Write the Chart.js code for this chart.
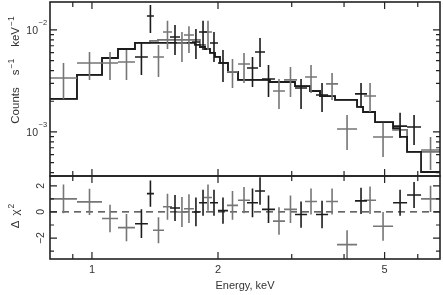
<!DOCTYPE html>
<html>
<head>
<meta charset="utf-8">
<script src="https://cdn.jsdelivr.net/npm/chart.js@4.4.1/dist/chart.umd.min.js"></script>
<style>
  html, body { margin: 0; padding: 0; background: #fff; }
  #wrap { position: relative; width: 443px; height: 295px; }
  #spec { position: absolute; left: 0; top: 0; }
  #resid { position: absolute; left: 0; top: 174px; }
</style>
</head>
<body>
<div id="wrap">
  <canvas id="spec" width="443" height="178"></canvas>
  <canvas id="resid" width="443" height="121"></canvas>
</div>
<script>
// plotted energy range, keV
var eMin = 0.794, eMax = 6.78;

// black instrument: bin edges (keV), count rate and its error limits, residuals
var blkLo = [1.267, 1.353, 1.536, 1.733, 1.802, 1.914, 2.000, 2.346, 2.452, 2.548, 3.055, 3.428, 4.249, 5.238, 5.657];
var blkHi = [1.360, 1.406, 1.623, 1.811, 1.883, 2.000, 2.113, 2.492, 2.590, 2.736, 3.264, 3.664, 4.539, 5.657, 6.109];
var blkRate = [0.00544, 0.0137, 0.00854, 0.00763, 0.00956, 0.00746, 0.00475, 0.00424, 0.00609, 0.00331, 0.00270, 0.00230, 0.00236, 0.00114, 0.00112];
var blkRateLo = [0.00362, 0.00935, 0.00569, 0.00519, 0.00637, 0.00485, 0.00309, 0.00276, 0.00434, 0.00220, 0.00168, 0.00157, 0.00172, 0.000873, 0.000746];
var blkRateHi = [0.00746, 0.0176, 0.0112, 0.0102, 0.0123, 0.00956, 0.00637, 0.00544, 0.00835, 0.00454, 0.00331, 0.00302, 0.00302, 0.00154, 0.00147];
var blkRes = [-0.9, 1.4, 0.3, 0.0, 0.7, 0.7, 0.1, 0.7, 1.6, 0.2, -0.2, -0.2, 0.85, 0.7, 1.3];
var blkResErr = [1.1, 1.0, 1.0, 1.1, 1.0, 1.0, 1.0, 1.1, 1.05, 1.05, 1.0, 1.05, 1.0, 1.0, 1.0];

// grey instrument
var gryLo = [0.794, 0.921, 1.057, 1.154, 1.399, 1.478, 1.596, 1.659, 1.852, 2.101, 2.233, 2.706, 2.875, 3.228, 3.624, 3.849, 4.465, 4.691, 6.109];
var gryHi = [0.921, 1.057, 1.154, 1.267, 1.486, 1.553, 1.686, 1.752, 1.935, 2.233, 2.385, 2.891, 3.088, 3.447, 3.870, 4.297, 4.770, 5.238, 6.782];
var gryRate = [0.00338, 0.00475, 0.00475, 0.00485, 0.00544, 0.00956, 0.00746, 0.00893, 0.00956, 0.00388, 0.00464, 0.00252, 0.00324, 0.00346, 0.00296, 0.00107, 0.00225, 0.000893, 0.000666];
var gryRateLo = [0.00211, 0.00324, 0.00324, 0.00324, 0.00346, 0.00651, 0.00485, 0.00595, 0.00637, 0.00270, 0.00302, 0.00168, 0.00220, 0.00241, 0.00206, 0.000666, 0.00157, 0.000569, 0.000424];
var gryRateHi = [0.00475, 0.00609, 0.00609, 0.00637, 0.00713, 0.0123, 0.00956, 0.0109, 0.0123, 0.00519, 0.00595, 0.00331, 0.00434, 0.00454, 0.00379, 0.00147, 0.00302, 0.00123, 0.000893];
var gryRes = [1.0, 0.77, -0.5, -1.2, -1.4, 0.4, 0.0, 0.25, 1.1, 0.5, 0.9, -0.7, 0.2, 0.8, 0.8, -2.5, 0.9, -1.1, 1.0];
var gryResErr = [1.1, 1.0, 1.05, 1.05, 1.0, 1.0, 1.15, 1.1, 1.0, 1.1, 1.0, 1.05, 1.05, 1.0, 1.0, 1.1, 1.05, 1.1, 1.0];

// folded models (step histograms)
var blkModelEdges = [0.794, 0.921, 1.057, 1.154, 1.267, 1.376, 1.762, 1.811, 1.862, 1.914, 1.967, 2.022, 2.113, 2.233, 2.661, 3.055, 3.318, 3.505, 3.807, 4.297, 4.441, 4.744, 5.238, 5.443, 5.657, 6.109, 6.782];
var blkModel = [0.00211, 0.00362, 0.00531, 0.00651, 0.00746, 0.00746, 0.00713, 0.00681, 0.00651, 0.00595, 0.00544, 0.00475, 0.00388, 0.00324, 0.00309, 0.00282, 0.00252, 0.00225, 0.00206, 0.00176, 0.00157, 0.00125, 0.00109, 0.000893, 0.000637, 0.000405];
var gryModelEdges = [0.794, 0.921, 1.057, 1.154, 1.267, 1.376, 1.438, 1.811, 1.862, 1.914, 1.967, 2.022, 2.113, 2.233, 2.661, 3.055, 3.318, 3.505, 3.807, 4.297, 4.441, 4.744, 5.238, 5.657, 6.782];
var gryModel = [0.00211, 0.00362, 0.00531, 0.00651, 0.00746, 0.0078, 0.00798, 0.00713, 0.00651, 0.00595, 0.00544, 0.00475, 0.00388, 0.00324, 0.00309, 0.00282, 0.00252, 0.00225, 0.00206, 0.00176, 0.00157, 0.00125, 0.00105, 0.000637];

// axes
var rateMin = 3.7e-4, rateMax = 0.0188;
var resMin = -3.6, resMax = 2.75;
var energyTicks = [0.9, 1, 2, 3, 4, 5, 6];
var energyLabels = [1, 2, 5];
var rateLabels = [0.01, 0.001];
var rateExp = ['\u22122', '\u22123'];
var resTicks = [-3, -2, -1, 0, 1, 2];
var resLabels = [-2, 0, 2];

var FONT = '"Liberation Sans", Arial, sans-serif';
var BLACK = '#1c1c1c', GREY = '#767676';

function crosses(lo, hi, v, vlo, vhi) {
    var pts = [];
    for (var i = 0; i < lo.length; i++) {
        var c = Math.sqrt(lo[i] * hi[i]);
        pts.push({x: lo[i], y: v[i]}, {x: hi[i], y: v[i]}, {x: c, y: null},
                 {x: c, y: vlo[i]}, {x: c, y: vhi[i]}, {x: c, y: null});
    }
    return pts;
}

function steps(edges, vals) {
    var pts = [];
    for (var i = 0; i < vals.length; i++) {
        pts.push({x: edges[i], y: vals[i]}, {x: edges[i + 1], y: vals[i]});
    }
    return pts;
}

function drawRich(ctx, parts, cx, cy, rot) {
    ctx.save();
    ctx.translate(cx, cy);
    if (rot) ctx.rotate(-Math.PI / 2);
    var total = 0;
    parts.forEach(function(p) {
        ctx.font = p.size + 'px ' + FONT;
        p.w = ctx.measureText(p.t).width;
        total += p.w + (p.gap || 0);
    });
    var x = -total / 2;
    ctx.textAlign = 'left';
    ctx.textBaseline = 'alphabetic';
    parts.forEach(function(p) {
        x += p.gap || 0;
        ctx.font = p.size + 'px ' + FONT;
        ctx.fillText(p.t, x, 4 + (p.dy || 0));
        x += p.w;
    });
    ctx.restore();
}

// frame, inward ticks and all labels
var frame = {
    id: 'frame',
    afterDatasetsDraw: function(chart, args, o) {
        var ctx = chart.ctx, a = chart.chartArea, xs = chart.scales.x, ys = chart.scales.y;
        ctx.save();
        ctx.strokeStyle = '#222';
        ctx.lineWidth = 1.2;
        ctx.beginPath();
        energyTicks.forEach(function(v) {
            var p = xs.getPixelForValue(v);
            var len = energyLabels.indexOf(v) >= 0 ? 7 : 5;
            ctx.moveTo(p, a.bottom); ctx.lineTo(p, a.bottom - len);
            ctx.moveTo(p, a.top); ctx.lineTo(p, a.top + len);
        });
        o.yTicks.forEach(function(v) {
            var p = ys.getPixelForValue(v);
            if (p < a.top || p > a.bottom) return;
            var len = o.yMajor.indexOf(v) >= 0 ? 7 : 4;
            ctx.moveTo(a.left, p); ctx.lineTo(a.left + len, p);
            ctx.moveTo(a.right, p); ctx.lineTo(a.right - len, p);
        });
        ctx.stroke();
        ctx.lineWidth = 1.6;
        ctx.strokeRect(a.left, a.top, a.right - a.left, a.bottom - a.top);

        ctx.fillStyle = '#333';
        if (o.log) {
            o.yMajor.forEach(function(v, i) {
                var p = ys.getPixelForValue(v);
                ctx.font = '10.5px ' + FONT;
                ctx.textAlign = 'right';
                ctx.textBaseline = 'middle';
                ctx.fillText('10', 38, p + 1);
                ctx.font = '7.5px ' + FONT;
                ctx.textAlign = 'left';
                ctx.fillText(rateExp[i], 38.5, p - 7);
            });
            drawRich(ctx, [
                {t: 'Counts', size: 11.5},
                {t: 's', size: 11.5, gap: 12},
                {t: '\u22121', size: 8.5, dy: -5, gap: 1},
                {t: 'keV', size: 11.5, gap: 12},
                {t: '\u22121', size: 8.5, dy: -5, gap: 1}
            ], 15, 70, true);
        } else {
            o.yMajor.forEach(function(v) {
                var p = ys.getPixelForValue(v);
                ctx.save();
                ctx.translate(41, p);
                ctx.rotate(-Math.PI / 2);
                ctx.font = '10.5px ' + FONT;
                ctx.textAlign = 'center';
                ctx.textBaseline = 'middle';
                ctx.fillText(v < 0 ? '\u2212' + (-v) : String(v), 0, 0);
                ctx.restore();
            });
            drawRich(ctx, [
                {t: '\u0394', size: 11.5},
                {t: '\u03c7', size: 11.5, gap: 5},
                {t: '2', size: 8.5, dy: -5, gap: 1}
            ], 15, 42, true);
            ctx.font = '11px ' + FONT;
            ctx.textAlign = 'center';
            ctx.textBaseline = 'middle';
            energyLabels.forEach(function(v) {
                ctx.fillText(String(v), xs.getPixelForValue(v), a.bottom + 11);
            });
            ctx.fillText('Energy, keV', (a.left + a.right) / 2, a.bottom + 27);
        }
        ctx.restore();
    }
};

function lineSet(pts, color, width, order, dash) {
    return {
        data: pts, borderColor: color, borderWidth: width, pointRadius: 0,
        tension: 0, spanGaps: false, fill: false, order: order, borderDash: dash || []
    };
}

var baseOpts = function(yScale, pad, frameOpts) {
    return {
        responsive: false,
        animation: false,
        devicePixelRatio: 1,
        events: [],
        layout: {padding: pad},
        scales: {
            x: {type: 'logarithmic', min: eMin, max: eMax, display: false},
            y: yScale
        },
        plugins: {legend: {display: false}, tooltip: {enabled: false}, frame: frameOpts}
    };
};

var rateMinor = [];
[1e-4, 1e-3].forEach(function(d) {
    for (var k = 2; k <= 9; k++) rateMinor.push(k * d);
});

new Chart(document.getElementById('spec').getContext('2d'), {
    type: 'line',
    data: {
        datasets: [
            lineSet(crosses(blkLo, blkHi, blkRate, blkRateLo, blkRateHi), BLACK, 1.6, 0),
            lineSet(crosses(gryLo, gryHi, gryRate, gryRateLo, gryRateHi), GREY, 1.6, 1),
            lineSet(steps(blkModelEdges, blkModel), BLACK, 1.8, 2),
            lineSet(steps(gryModelEdges, gryModel), GREY, 1.8, 3)
        ]
    },
    options: baseOpts({type: 'logarithmic', min: rateMin, max: rateMax, display: false},
        {left: 50, top: 2, right: 3, bottom: 2},
        {log: true, yTicks: rateLabels.concat(rateMinor), yMajor: rateLabels}),
    plugins: [frame]
});

var zeroLine = [{x: eMin, y: 0}, {x: eMax, y: 0}];
var resBlk = blkRes.map(function(r, i) { return r - blkResErr[i]; });
var resBlkHi = blkRes.map(function(r, i) { return r + blkResErr[i]; });
var resGry = gryRes.map(function(r, i) { return r - gryResErr[i]; });
var resGryHi = gryRes.map(function(r, i) { return r + gryResErr[i]; });

new Chart(document.getElementById('resid').getContext('2d'), {
    type: 'line',
    data: {
        datasets: [
            lineSet(crosses(blkLo, blkHi, blkRes, resBlk, resBlkHi), BLACK, 1.6, 0),
            lineSet(crosses(gryLo, gryHi, gryRes, resGry, resGryHi), GREY, 1.6, 1),
            lineSet(zeroLine, '#333', 1.3, 2, [7, 5])
        ]
    },
    options: baseOpts({type: 'linear', min: resMin, max: resMax, display: false},
        {left: 50, top: 2, right: 3, bottom: 36},
        {log: false, yTicks: resTicks, yMajor: resLabels}),
    plugins: [frame]
});
</script>
</body>
</html>
